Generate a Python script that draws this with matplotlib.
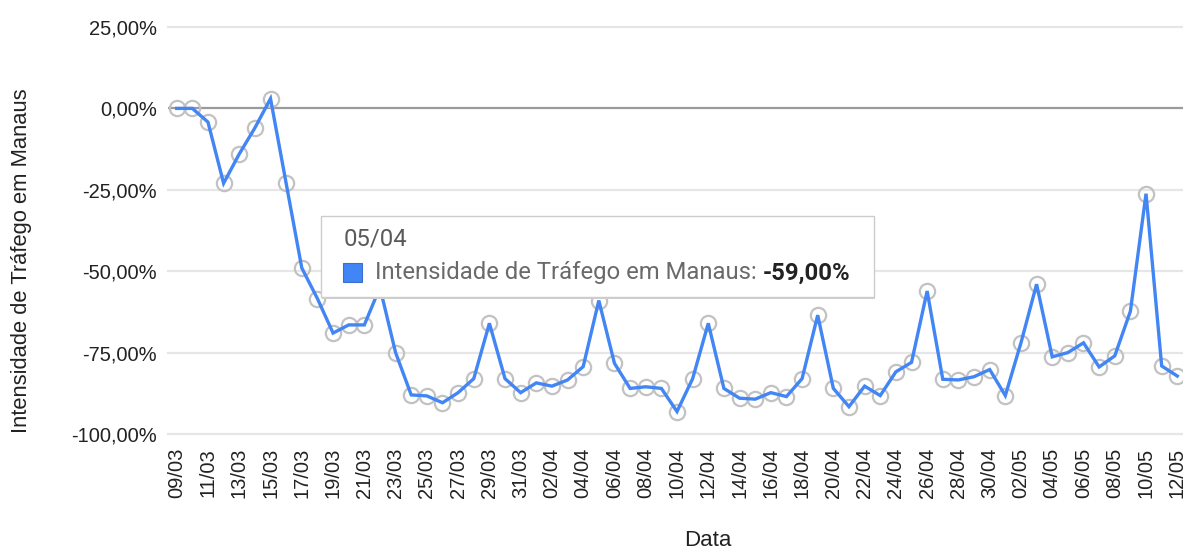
import matplotlib
matplotlib.use("Agg")
import matplotlib.pyplot as plt
from matplotlib.patches import Rectangle
from matplotlib.ticker import FuncFormatter

# ---- data ----
dates = ["09/03", "10/03", "11/03", "12/03", "13/03", "14/03", "15/03", "16/03", "17/03",
         "18/03", "19/03", "20/03", "21/03", "22/03", "23/03", "24/03", "25/03", "26/03",
         "27/03", "28/03", "29/03", "30/03", "31/03", "01/04", "02/04", "03/04", "04/04",
         "05/04", "06/04", "07/04", "08/04", "09/04", "10/04", "11/04", "12/04", "13/04",
         "14/04", "15/04", "16/04", "17/04", "18/04", "19/04", "20/04", "21/04", "22/04",
         "23/04", "24/04", "25/04", "26/04", "27/04", "28/04", "29/04", "30/04", "01/05",
         "02/05", "03/05", "04/05", "05/05", "06/05", "07/05", "08/05", "09/05", "10/05",
         "11/05", "12/05"]
intensidade = [0, 0, -4.2, -23, -14, -6, 3, -23, -49,
               -58.4, -69, -66.5, -66.5, -55, -75, -88, -88.3, -90.4,
               -87.3, -83, -66, -83, -87.3, -84.3, -85.3, -83.4, -79.3,
               -59, -78.3, -86, -85.5, -86, -93.1, -83, -66, -86,
               -89, -89.3, -87.3, -88.5, -83, -63.5, -86, -91.6, -85.3,
               -88.2, -80.9, -78, -56.1, -83.2, -83.4, -82.4, -80.2, -88.2,
               -72, -54, -76.3, -75, -72, -79.4, -76, -62.3, -26.2,
               -79.1, -82.2]
y_ticks = [25, 0, -25, -50, -75, -100]
tooltip_date = "05/04"
tooltip_label = "Intensidade de Tráfego em Manaus: "
tooltip_value = "-59,00%"

W, H = 1183, 552
DPI = 100
plt.rcParams['font.family'] = ['Liberation Sans', 'DejaVu Sans']

fig = plt.figure(figsize=(W / DPI, H / DPI), dpi=DPI)
fig.patch.set_facecolor('white')

def fx(px):
    return px / W

def fy(py):
    return 1 - py / H

left_px, right_px, top_px, bot_px = 168, 1183, 27, 434
ax = fig.add_axes([fx(left_px), fy(bot_px), fx(right_px) - fx(left_px), fy(top_px) - fy(bot_px)])

x = list(range(len(dates)))
step = (1177.3 - 176.7) / 64.0
x0_px = 176.7
ax.set_xlim((left_px - x0_px) / step, (right_px - x0_px) / step)
ax.set_ylim(-100, 25)

for t in y_ticks:
    if t == 0:
        ax.axhline(t, color='#9a9a9a', lw=1.6, zorder=1)
    else:
        ax.axhline(t, color='#e6e6e6', lw=1.6, zorder=1, clip_on=False)

ax.plot(x, intensidade, linestyle='none', marker='o', ms=11, mfc='none',
        mec='#c2c2c2', mew=1.6, zorder=2, clip_on=True)
ax.plot(x, intensidade, color='#4285f4', lw=2.4, zorder=3, solid_joinstyle='miter')

for s in ax.spines.values():
    s.set_visible(False)

ax.set_yticks(y_ticks)
ax.yaxis.set_major_formatter(FuncFormatter(lambda v, p: f"{v:.2f}%".replace('.', ',')))
ax.set_xticks(x[::2])
ax.set_xticklabels(dates[::2], rotation=90, va='top', ha='center')
ax.tick_params(axis='y', length=0, pad=8, labelsize=14.5, labelcolor='#222222')
ax.tick_params(axis='x', length=0, pad=10, labelsize=14.5, labelcolor='#222222')

fig.text(fx(22), fy(261), "Intensidade de Tráfego em Manaus", rotation=90,
         ha='center', va='center', fontsize=15.8, color='#222222')
fig.text(fx(708), fy(541), "Data", ha='center', va='center', fontsize=16, color='#222222')

# ---- tooltip ----
bx0, bx1, by0, by1 = 321, 874, 216, 297
shadow = Rectangle((fx(bx0 + 1), fy(by1 + 2)), fx(bx1 - bx0), fy(by0) - fy(by1),
                   transform=fig.transFigure, facecolor='#d0d0d0', edgecolor='none', zorder=10)
box = Rectangle((fx(bx0), fy(by1)), fx(bx1 - bx0), fy(by0) - fy(by1),
                transform=fig.transFigure, facecolor='white', edgecolor='#cccccc', lw=1.0, zorder=11)
fig.add_artist(shadow)
fig.add_artist(box)
sq = Rectangle((fx(343), fy(282)), fx(19), fy(263) - fy(282), transform=fig.transFigure,
               facecolor='#4285f4', edgecolor='#3a6fd0', lw=0.8, zorder=12)
fig.add_artist(sq)
tfont = ['Roboto', 'DejaVu Sans']
t_date = fig.text(fx(344), fy(239), tooltip_date, ha='left', va='center', fontsize=16,
                  color='#5a5a5a', family=tfont, zorder=12)
t_lab = fig.text(fx(375), fy(273), tooltip_label, ha='left', va='center', fontsize=16,
                 color='#6a6a6a', family=tfont, zorder=12)
t_val = fig.text(0, 0, tooltip_value, ha='left', va='center', fontsize=16,
                 color='#222222', family=tfont, fontweight='bold', zorder=12)

# fit tooltip text width to the reference (approx 476 px from 375 to 851)
fig.canvas.draw()
r = fig.canvas.get_renderer()
w_tot = t_lab.get_window_extent(r).width + t_val.get_window_extent(r).width
scale = 476.0 / w_tot
fs = 16 * scale
t_lab.set_fontsize(fs)
t_val.set_fontsize(fs)
t_date.set_fontsize(fs)
fig.canvas.draw()
wl = t_lab.get_window_extent(r).width
t_val.set_position((fx(375 + wl), fy(273)))

fig.savefig('out.png', dpi=DPI, facecolor='white')
